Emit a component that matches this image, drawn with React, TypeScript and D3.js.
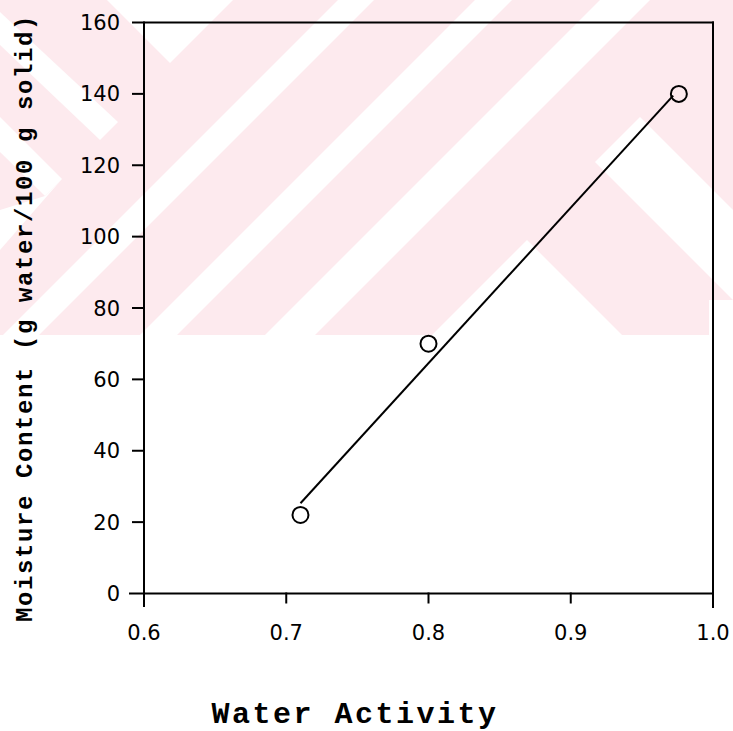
import React from "react";
import * as d3 from "d3";

// ---- data ----
const waterActivity: number[] = [0.71, 0.8, 0.976];
const moistureContent: number[] = [22, 70, 140];
const fitX: number[] = [0.71, 0.972];
const fitY: number[] = [25.3, 139.5];
const xTicks: number[] = [0.6, 0.7, 0.8, 0.9, 1.0];
const xTickLabels: string[] = ["0.6", "0.7", "0.8", "0.9", "1.0"];
const yTicks: number[] = [0, 20, 40, 60, 80, 100, 120, 140, 160];
const yTickLabels: string[] = ["0", "20", "40", "60", "80", "100", "120", "140", "160"];
const xTitle = "Water Activity";
const yTitle = "Moisture Content (g water/100 g solid)";

// ---- background watermark (scan decoration) ----
const PINK = "#fdeaee";
const wmWhite: [number, number][][] = [
  // "/" stripes (x + y = const)
  [[338, 0], [374, 0], [39, 335], [3, 335]],
  [[475, 0], [512, 0], [177, 335], [140, 335]],
  [[600, 0], [650, 0], [315, 335], [265, 335]],
  // top V notch
  [[107, 0], [233, 0], [170, 63]],
  // left chevron shapes
  [[0, 12], [118, 122], [100, 140], [0, 45]],
  [[0, 117], [62, 179], [45, 196], [0, 152]],
  [[0, 210], [45, 196], [62, 179], [0, 250]],
  // right chevrons
  [[527, 240], [622, 335], [432, 335]],
  [[640, 117], [733, 210], [733, 300], [595, 162]],
  [[709, 300], [733, 300], [733, 335], [709, 335]],
];

export default function App() {
  const W = 733;
  const H = 731;
  const x = d3.scaleLinear().domain([0.6, 1.0]).range([144, 713]);
  const y = d3.scaleLinear().domain([0, 160]).range([593.5, 22.5]);

  const line = d3
    .line<number>()
    .x((_, i) => x(fitX[i]))
    .y((d) => y(d));

  const x0 = x(0.6);
  const x1 = x(1.0);
  const y0 = y(0);
  const y1 = y(160);

  return (
    <svg
      width={W}
      height={H}
      viewBox={`0 0 ${W} ${H}`}
      style={{ position: "absolute", left: 0, top: 0, background: "#fff" }}
    >
      <rect x={0} y={0} width={W} height={H} fill="#fff" />
      <rect x={0} y={0} width={W} height={335} fill={PINK} />
      {wmWhite.map((p, i) => (
        <polygon key={i} points={p.map((q) => q.join(",")).join(" ")} fill="#fff" />
      ))}

      {/* frame */}
      <g stroke="#000" strokeWidth={2} fill="none" strokeLinecap="square">
        <line x1={133} y1={y1} x2={x1} y2={y1} />
        <line x1={130} y1={y0} x2={x1} y2={y0} />
        <line x1={x0} y1={y1} x2={x0} y2={606} />
        <line x1={x1} y1={y1} x2={x1} y2={607} />
        {yTicks.slice(1, -1).map((t) => (
          <line key={t} x1={133} y1={y(t)} x2={x0} y2={y(t)} />
        ))}
        {xTicks.slice(1, -1).map((t) => (
          <line key={t} x1={x(t)} y1={y0} x2={x(t)} y2={y0 + 9} />
        ))}
      </g>

      {/* tick labels */}
      <g fontFamily="'DejaVu Sans', sans-serif" fontSize={21} fill="#000">
        {yTicks.map((t, i) => (
          <text key={t} x={120} y={y(t)} textAnchor="end" dy="0.36em">
            {yTickLabels[i]}
          </text>
        ))}
        {xTicks.map((t, i) => (
          <text key={t} x={x(t)} y={640} textAnchor="middle">
            {xTickLabels[i]}
          </text>
        ))}
      </g>

      {/* fit line */}
      <path d={line(fitY) || ""} fill="none" stroke="#000" strokeWidth={2} />

      {/* data points */}
      {waterActivity.map((wa, i) => (
        <circle
          key={i}
          cx={x(wa)}
          cy={y(moistureContent[i])}
          r={8}
          fill="none"
          stroke="#000"
          strokeWidth={2}
        />
      ))}

      {/* axis titles */}
      <text
        x={355}
        y={723}
        textAnchor="middle"
        fontFamily="'Liberation Mono', monospace"
        fontWeight="bold"
        fontSize={30}
        letterSpacing={2.5}
        fill="#000"
      >
        {xTitle}
      </text>
      <text
        transform={`translate(32,318) rotate(-90)`}
        textAnchor="middle"
        fontFamily="'Liberation Mono', monospace"
        fontWeight="bold"
        fontSize={24}
        letterSpacing={1.6}
        fill="#000"
      >
        {yTitle}
      </text>
    </svg>
  );
}
